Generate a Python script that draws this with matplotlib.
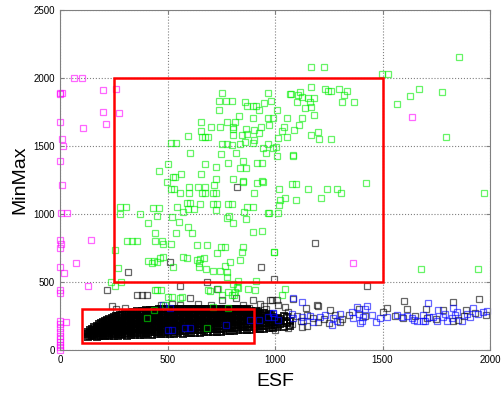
# ESF vs MinMax scatter, with the two red selection boxes

import numpy as np
import matplotlib
matplotlib.use("Agg")
import matplotlib.pyplot as plt
from matplotlib.patches import Rectangle

plt.rcParams['font.family'] = ['Liberation Sans', 'DejaVu Sans']

# dense black cluster: column x positions and the y values in each column
cluster_cols = [130, 150, 170, 190, 210, 230, 250, 270, 290, 310, 330, 350,
                370, 390, 410, 430, 450, 470, 490, 510, 530, 550, 570, 590,
                610, 630, 650, 670, 690, 710, 730, 750, 770, 790, 810, 830,
                850, 870, 890, 910, 930, 950, 970, 990, 1010, 1040, 1070]
cluster_ys = [
    [95, 115, 135], [100, 120, 140, 158], [98, 118, 138, 160, 178],
    [100, 122, 145, 168, 195], [102, 125, 150, 175, 200, 215],
    [100, 128, 155, 180, 205, 228], [105, 130, 158, 185, 210, 240],
    [103, 132, 160, 188, 215, 250], [108, 135, 165, 192, 222, 258],
    [106, 138, 168, 198, 228, 262], [110, 140, 170, 200, 232, 270],
    [108, 142, 172, 205, 238, 275], [112, 145, 175, 208, 240, 282],
    [110, 140, 178, 210, 245, 285], [114, 148, 180, 212, 248, 290],
    [112, 150, 182, 215, 250, 292], [116, 148, 185, 218, 255, 295],
    [115, 152, 188, 220, 258, 298], [118, 150, 190, 222, 260, 300],
    [117, 155, 192, 225, 262, 296], [120, 158, 190, 228, 265, 302],
    [122, 156, 195, 230, 268, 298], [121, 160, 198, 232, 270, 300],
    [124, 162, 196, 235, 272, 303], [126, 160, 200, 236, 270, 298],
    [125, 165, 202, 238, 274, 302], [128, 166, 205, 240, 275, 300],
    [130, 168, 204, 242, 278, 305], [131, 170, 208, 244, 276, 300],
    [133, 172, 210, 245, 280, 302], [135, 175, 212, 248, 282, 298],
    [136, 174, 214, 250, 284, 304], [138, 178, 216, 252, 282, 300],
    [140, 180, 218, 254, 286, 302], [142, 182, 220, 256, 288, 298],
    [144, 184, 222, 258, 290, 300], [146, 186, 224, 260, 288, 303],
    [148, 188, 226, 262, 292, 298], [150, 190, 228, 264, 290],
    [152, 192, 230, 262, 285], [155, 195, 232, 268], [158, 198, 235, 270],
    [160, 200, 238, 262], [165, 205, 240], [168, 208, 235],
    [172, 210, 250], [175, 215],
]

# second, interleaved set of cluster columns
cluster_cols2 = [140, 160, 180, 200, 220, 240, 260, 280, 300, 320, 340, 360,
                 380, 400, 420, 440, 460, 480, 500, 520, 540, 560, 580, 600,
                 620, 640, 660, 680, 700, 720, 740, 760, 780, 800, 820, 840,
                 860, 880, 900, 920, 940, 960, 980, 1000, 1025, 1055]
cluster_ys2 = [
    [105, 125, 148], [108, 130, 150, 170], [106, 128, 150, 172, 190],
    [110, 135, 160, 185, 208], [112, 138, 162, 190, 212, 222],
    [114, 142, 168, 195, 220, 236], [116, 145, 172, 200, 228, 248],
    [118, 148, 176, 202, 236, 256], [120, 150, 180, 212, 245, 265],
    [122, 154, 185, 215, 250, 272], [124, 156, 188, 220, 255, 280],
    [126, 158, 190, 222, 258, 285], [127, 160, 192, 225, 262, 288],
    [128, 162, 195, 228, 265, 292], [130, 165, 198, 232, 268, 295],
    [131, 168, 200, 235, 270, 296], [133, 170, 204, 238, 274, 298],
    [134, 172, 206, 240, 276, 300], [136, 174, 208, 242, 278, 302],
    [138, 176, 210, 246, 280, 300], [139, 178, 212, 248, 284, 303],
    [141, 180, 214, 250, 285, 300], [143, 182, 216, 252, 288, 302],
    [144, 184, 218, 254, 288, 300], [146, 186, 220, 256, 290, 304],
    [148, 188, 222, 258, 290, 300], [149, 190, 224, 260, 292, 302],
    [151, 192, 226, 262, 294, 300], [153, 194, 228, 264, 292, 304],
    [155, 196, 230, 266, 294], [157, 198, 232, 268, 296],
    [158, 200, 234, 270, 298], [160, 202, 236, 272, 296],
    [162, 204, 238, 274, 300], [164, 206, 240, 276, 298],
    [166, 208, 242, 278, 302], [168, 210, 244, 280, 296],
    [170, 212, 246, 278], [172, 214, 248, 275], [175, 215, 250, 278],
    [178, 218, 255], [180, 220, 250], [182, 222, 256], [185, 225],
    [190, 228], [195, 240],
]

# loose black points
black_pts = [
    (822, 1196), (1186, 784), (318, 576), (933, 608), (997, 522), (220, 441),
    (357, 404), (380, 404), (403, 404), (558, 471), (682, 502), (605, 380),
    (819, 380), (512, 650), (729, 449), (1429, 471), (752, 368), (899, 368),
    (977, 368), (1016, 331), (1085, 375), (1010, 368), (985, 368), (1047, 319),
    (1144, 306), (1198, 326), (1256, 294), (1346, 257), (1302, 208), (1124, 172),
    (1178, 233), (1201, 208), (1600, 360), (1950, 375), (1826, 355), (1523, 311),
    (1616, 301), (1780, 294), (1888, 294), (1706, 233), (1829, 213), (1594, 233),
    (1194, 331), (930, 340), (950, 320), (1060, 280), (1100, 250), (1040, 200),
    (1080, 190), (1120, 210), (1150, 260), (1230, 230), (1280, 260), (1310, 230),
    (1150, 180), (1000, 150), (1060, 160), (700, 330), (640, 340), (850, 330),
    (880, 310), (960, 300), (300, 310), (260, 300), (240, 320), (470, 330),
    (520, 340), (560, 330), (1250, 200), (1390, 300), (1420, 250), (1500, 280),
    (1560, 250), (1650, 250), (1700, 300), (1750, 230), (1850, 220), (1880, 250),
    (1930, 270), (1980, 260),
]

green_pts = [
    (1169, 2078), (1228, 2078), (1496, 2029), (1527, 2029), (1856, 2154),
    (1671, 1916), (1628, 1868), (1569, 1811), (1777, 1894), (1794, 1564),
    (1974, 1152), (1679, 596), (1946, 596), (1423, 1225),
    (1167, 1936), (1233, 1919), (1248, 1907), (1260, 1904), (1299, 1919),
    (1336, 1904), (1321, 1875), (1313, 1826), (1369, 1821), (1070, 1882),
    (1075, 1880), (1116, 1900), (1108, 1875), (1124, 1863), (1101, 1826),
    (1152, 1850), (1163, 1826), (1183, 1850), (1141, 1777), (1167, 1785),
    (1183, 1728), (1008, 1765), (1054, 1703), (1127, 1703), (989, 1703),
    (1042, 1637), (1031, 1612), (1112, 1654), (1088, 1618), (1054, 1564),
    (1016, 1556), (1167, 1581), (1201, 1600), (1206, 1551), (1260, 1549),
    (1003, 1490), (1008, 1426), (1082, 1431), (1085, 1428),
    (752, 1887), (969, 1887), (741, 1831), (771, 1831), (798, 1831), (862, 1821),
    (868, 1796), (896, 1796), (911, 1796), (950, 1813), (980, 1831), (927, 1765),
    (740, 1765), (834, 1721), (899, 1703), (969, 1703), (656, 1679), (778, 1679),
    (814, 1679), (803, 1637), (806, 1625), (702, 1637), (744, 1637), (865, 1625),
    (902, 1618), (933, 1637), (973, 1654), (656, 1612), (659, 1569), (674, 1569),
    (690, 1569), (597, 1576), (806, 1581), (845, 1581), (868, 1588), (904, 1546),
    (927, 1593), (860, 1532), (837, 1515), (798, 1507), (752, 1512), (775, 1512),
    (899, 1524), (969, 1512), (946, 1483), (992, 1483), (516, 1519), (540, 1519),
    (605, 1451), (749, 1441), (819, 1451), (958, 1451), (504, 1365), (674, 1365),
    (726, 1348), (783, 1377), (853, 1392), (837, 1341), (865, 1341), (915, 1377),
    (941, 1377), (460, 1316), (524, 1270), (535, 1270), (563, 1294), (654, 1294),
    (726, 1257), (806, 1257), (853, 1245), (941, 1245), (915, 1225), (499, 1238),
    (516, 1181), (530, 1181), (558, 1152), (601, 1196), (601, 1152), (643, 1196),
    (674, 1196), (718, 1213), (659, 1152), (674, 1152), (712, 1152), (726, 1152),
    (853, 1238), (946, 1238), (904, 1152), (279, 1049), (305, 1049), (279, 1000),
    (372, 1000), (434, 1042), (462, 1042), (453, 985), (411, 931), (519, 980),
    (553, 944), (543, 1054), (574, 1017), (597, 1034), (623, 1034), (592, 1078),
    (605, 1078), (651, 1073), (713, 1073), (729, 1073), (726, 1029), (783, 1073),
    (798, 1073), (788, 985), (806, 936), (775, 967), (856, 1017), (868, 1054),
    (896, 1054), (864, 961), (899, 870), (938, 877), (973, 1005), (997, 723),
    (597, 902), (612, 863), (540, 863), (442, 863), (442, 801), (473, 801),
    (478, 779), (515, 779), (310, 801), (333, 801), (358, 801), (256, 735),
    (639, 772), (682, 772), (729, 711), (747, 760), (767, 760), (850, 760),
    (845, 723), (837, 662), (791, 649), (767, 618), (775, 576), (775, 534),
    (744, 583), (710, 583), (679, 593), (645, 608), (648, 642), (636, 662),
    (651, 671), (670, 674), (574, 681), (592, 674), (527, 608), (411, 656),
    (426, 637), (439, 654), (453, 649), (465, 674), (478, 681), (271, 600),
    (256, 471), (237, 502), (282, 502), (829, 507), (912, 510), (822, 466),
    (698, 434), (442, 441), (453, 441), (469, 441), (558, 380), (504, 387),
    (752, 404), (798, 404), (810, 404), (907, 441), (806, 483),
    (1020, 1181), (1078, 1221), (1098, 1221), (1155, 1181), (1243, 1181),
    (1290, 1181), (1307, 1152), (1212, 1115), (1096, 1103), (1047, 1115),
    (1023, 1103), (1019, 1066), (1016, 1010), (967, 1010), (995, 723),
    (1047, 449), (1034, 404), (519, 392), (566, 392), (688, 441), (733, 449),
    (780, 429), (814, 429), (829, 458), (876, 449), (439, 294), (783, 306),
    (713, 319), (488, 331), (403, 233), (685, 164),
]

blue_pts = [
    (989, 270), (997, 245), (1078, 262), (1085, 233), (1124, 245), (1132, 213),
    (1163, 252), (1178, 208), (1209, 245), (1233, 257), (1264, 184), (1271, 233),
    (1302, 262), (1287, 213), (1357, 282), (1383, 319), (1392, 262), (1403, 213),
    (1419, 301), (1411, 245), (1426, 326), (1450, 257), (1470, 208), (1488, 233),
    (1523, 240), (1566, 257), (1589, 245), (1612, 252), (1636, 238), (1647, 221),
    (1690, 257), (1698, 213), (1713, 343), (1718, 245), (1736, 245), (1760, 294),
    (1783, 245), (1791, 262), (1822, 233), (1826, 306), (1837, 257), (1845, 282),
    (1868, 213), (1892, 262), (1907, 245), (1922, 306), (1946, 262), (1969, 282),
    (1985, 287), (1687, 213), (1752, 213), (1798, 213), (1659, 213), (1395, 196),
    (1364, 233), (504, 147), (522, 147), (581, 159), (605, 159), (771, 184),
    (884, 221), (926, 221), (969, 245), (992, 270), (481, 331), (512, 306),
    (1016, 221), (1085, 380), (1124, 355),
]

magenta_pts = [
    (65, 1998), (104, 1998), (0, 1892), (8, 1892), (202, 1912), (262, 1917),
    (202, 1752), (273, 1746), (105, 1630), (215, 1662), (0, 1679), (8, 1549),
    (16, 1500), (0, 1392), (11, 1213), (3, 1005), (34, 1005), (144, 809),
    (0, 809), (0, 748), (74, 642), (0, 613), (19, 564), (132, 471), (0, 441),
    (0, 417), (26, 203), (0, 0), (0, 20), (0, 40), (0, 60), (0, 80), (0, 100),
    (0, 130), (0, 160), (0, 190), (0, 210), (1636, 1711), (1364, 642),
    (3, 780), (0, 1880),
]

# red selection boxes: (x0, y0, x1, y1)
boxes = [(250, 500, 1500, 2000), (100, 50, 900, 300)]

x_ticks = [0, 500, 1000, 1500, 2000]
y_ticks = [0, 500, 1000, 1500, 2000, 2500]

cluster_x = ([c for c, ys in zip(cluster_cols, cluster_ys) for _ in ys]
             + [c for c, ys in zip(cluster_cols2, cluster_ys2) for _ in ys])
cluster_y = ([y for ys in cluster_ys for y in ys]
             + [y for ys in cluster_ys2 for y in ys])

fig = plt.figure(figsize=(5.03, 3.94), dpi=100)
ax = fig.add_axes([60 / 503, 1 - 350 / 394, 430 / 503, 340 / 394])

mk = dict(marker='s', linestyle='none', markersize=5, markerfacecolor='none',
          markeredgewidth=0.9, alpha=0.6, clip_on=False)

mx, my = zip(*magenta_pts)
ax.plot(mx, my, markeredgecolor='#ff00ff', **mk)
# the cluster is drawn heavier so the overlap reads as a solid band
ax.plot(cluster_x, cluster_y, marker='s', linestyle='none', markersize=5,
        markerfacecolor='none', markeredgewidth=1.4, alpha=0.85,
        markeredgecolor='black')
bx, by = zip(*black_pts)
ax.plot(bx, by, markeredgecolor='black', **mk)
blx, bly = zip(*blue_pts)
ax.plot(blx, bly, markeredgecolor='#0000ff', **mk)
gx, gy = zip(*green_pts)
ax.plot(gx, gy, markeredgecolor='#00ee00', **mk)

for x0, y0, x1, y1 in boxes:
    ax.add_patch(Rectangle((x0, y0), x1 - x0, y1 - y0, fill=False,
                           edgecolor='red', linewidth=1.8, zorder=5))

ax.set_xlim(0, 2000)
ax.set_ylim(0, 2500)
ax.set_xticks(x_ticks)
ax.set_yticks(y_ticks)
ax.tick_params(direction='in', length=3, labelsize=7, color='#808080',
               top=True, right=True)
ax.grid(True, linestyle=':', color='#808080', linewidth=0.8)
for s in ax.spines.values():
    s.set_color('#808080')
    s.set_linewidth(0.8)

ax.set_xlabel('ESF', fontsize=14, labelpad=6)
ax.set_ylabel('MinMax', fontsize=14, labelpad=4)

fig.savefig('out.png', dpi=100)
